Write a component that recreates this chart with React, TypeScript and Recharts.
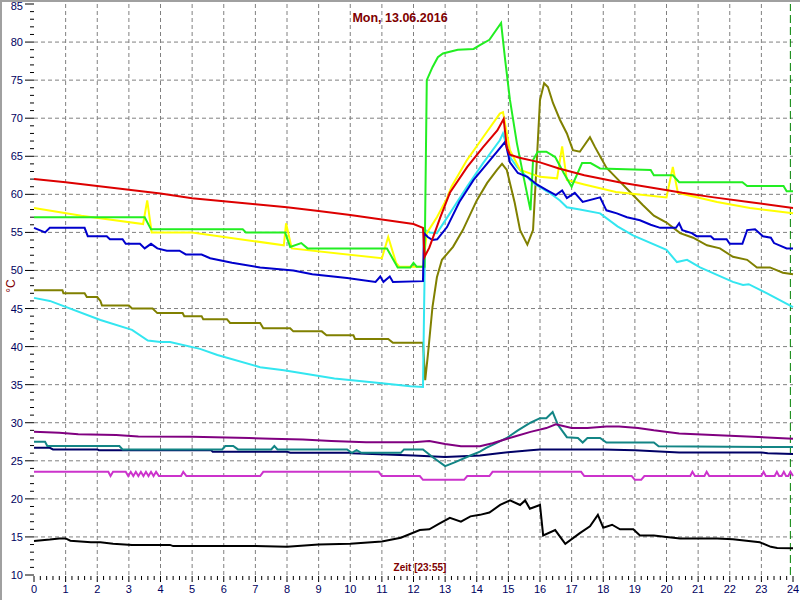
import { LineChart, Line, XAxis, YAxis, ReferenceLine } from "recharts"

// [hour, °C]
const redSeries = [
  [0, 62.0], [1, 61.6], [2, 61.1], [3, 60.6], [4, 60.1], [5, 59.5], [6, 59.1], [7, 58.7], [8, 58.3],
  [9, 57.8], [10, 57.3], [11, 56.7], [12, 56.1], [12.3, 55.6], [12.35, 51.8], [12.5, 53], [12.85, 57.0],
  [13.15, 60.2], [13.7, 63.6], [14.2, 66.2], [14.65, 68.4], [14.85, 69.9], [14.95, 66.2], [15.05, 65.2],
  [15.35, 64.8], [16, 64.2], [16.6, 63.4], [17.4, 62.5], [18.5, 61.6], [19.5, 60.9], [20.5, 60.2],
  [21.5, 59.6], [22.6, 59.0], [24, 58.2],
]

const yellowSeries = [
  [0, 58.2], [1.5, 57.2], [3.45, 56.1], [3.58, 59.2], [3.72, 55.0], [5, 55.0], [7.9, 53.3], [7.97, 56.2],
  [8.15, 52.9], [11.0, 51.6], [11.2, 54.4], [11.45, 51.0], [11.55, 50.5], [12.3, 50.5], [12.42, 54.9],
  [12.74, 57.0], [13.06, 59.5], [13.2, 61.0], [13.69, 64.5], [14.2, 67.5], [14.73, 70.6], [14.83, 70.8],
  [15.05, 65.8], [15.37, 63.2], [16.0, 62.3], [16.54, 62.1], [16.7, 66.3], [16.85, 61.9], [17.4, 61.3],
  [18.4, 60.3], [20.0, 59.6], [20.2, 63.6], [20.36, 60.2], [21.6, 59.0], [22.64, 58.2], [24, 57.5],
]

const greenSeries = [
  [0, 57], [3.5, 57], [3.7, 55.4], [6.6, 55.4], [6.7, 55.0], [7.94, 55.0], [8.1, 53.1], [8.45, 53.6],
  [8.65, 52.9], [11.16, 52.9], [11.5, 50.4], [11.9, 50.4], [12.0, 51.0], [12.1, 50.5], [12.35, 50.5],
  [12.42, 75.0], [12.6, 76.7], [12.77, 78.0], [12.93, 78.5], [13.4, 79.0], [13.9, 79.1], [14.1, 79.6],
  [14.4, 80.3], [14.77, 82.5], [14.9, 77.6], [15.05, 72.4], [15.27, 66.7], [15.5, 61.9], [15.7, 57.9],
  [15.78, 64.5], [15.93, 65.6], [16.2, 65.6], [16.48, 64.9], [16.75, 62.8], [17.0, 61.0], [17.33, 64.1],
  [17.6, 64.1], [17.9, 63.4], [19.5, 63.2], [19.6, 62.5], [20.2, 62.5], [20.4, 61.6], [22.4, 61.6],
  [22.55, 61.1], [23.7, 61.1], [23.8, 60.4], [24, 60.4],
]

const blueSeries = [
  [0, 55.6], [0.35, 55.0], [0.5, 55.6], [1.6, 55.6], [1.7, 54.5], [2.3, 54.5], [2.4, 54.1], [2.8, 54.1],
  [2.9, 53.5], [3.35, 53.5], [3.5, 52.9], [3.7, 53.5], [3.9, 52.9], [4.2, 52.6], [4.6, 52.6], [4.8, 52.1],
  [5.3, 52.1], [5.57, 51.6], [6.26, 51.0], [7.15, 50.4], [8.2, 50.0], [8.8, 49.5], [9.9, 49.0],
  [10.8, 48.5], [10.95, 49.2], [11.05, 48.5], [11.25, 49.2], [11.35, 48.5], [12.3, 48.6], [12.33, 54.9],
  [12.45, 54.4], [12.6, 54.0], [12.75, 54.1], [13.06, 55.7], [13.45, 59.0], [13.9, 61.9], [14.42, 64.5],
  [14.9, 66.9], [15.05, 64.2], [15.3, 62.8], [15.6, 62.3], [15.9, 61.3], [16.2, 60.6], [16.5, 59.9],
  [16.7, 60.5], [16.85, 59.5], [17.1, 60.2], [17.35, 59.0], [17.9, 59.6], [18.1, 57.9], [18.43, 57.5],
  [18.75, 57.0], [19.16, 56.6], [19.5, 56.0], [19.8, 55.6], [20.3, 55.6], [20.4, 56.2], [20.5, 55.3],
  [20.8, 54.9], [20.95, 54.5], [21.4, 54.5], [21.5, 54.1], [21.9, 54.1], [22.0, 53.5], [22.4, 53.5],
  [22.55, 55.3], [22.8, 55.4], [23.05, 54.5], [23.3, 54.3], [23.4, 53.6], [23.8, 52.9], [24, 52.9],
]

const cyanSeries = [
  [0, 46.4], [0.5, 46.0], [2.1, 43.5], [3.1, 42.2], [3.6, 40.8], [4.0, 40.6], [4.3, 40.6], [5.25, 39.7],
  [5.8, 38.9], [7.15, 37.3], [7.9, 36.9], [9.5, 35.8], [11.0, 35.2], [11.9, 34.8], [12.3, 34.7],
  [12.37, 55.3], [12.52, 55.0], [12.74, 54.9], [13.15, 57.5], [13.69, 61.0], [14.2, 64.1], [14.73, 67.1],
  [14.83, 68.0], [15.05, 64.9], [15.27, 63.6], [15.78, 61.5], [16.3, 60.2], [16.63, 59.2], [16.85, 58.3],
  [17.26, 58.0], [17.9, 57.5], [18.45, 55.8], [18.94, 54.6], [20.0, 52.7], [20.33, 51.1], [20.65, 51.4],
  [21.06, 50.4], [22.1, 48.5], [22.42, 48.1], [22.6, 48.2], [23.18, 47.0], [24, 45.2],
]

const oliveSeries = [
  [0, 47.4], [0.9, 47.4], [0.93, 47.0], [1.6, 47.0], [1.67, 46.5], [2.0, 46.5], [2.1, 46.0], [2.15, 45.4],
  [3.0, 45.4], [3.1, 45.0], [3.75, 45.0], [3.9, 44.4], [4.7, 44.4], [4.75, 44.0], [5.3, 44.0], [5.35, 43.6],
  [6.1, 43.6], [6.2, 43.1], [7.15, 43.1], [7.25, 42.4], [8.1, 42.4], [8.2, 42.0], [9.1, 42.0], [9.25, 41.5],
  [10.1, 41.5], [10.15, 41.0], [11.2, 41.0], [11.35, 40.5], [12.3, 40.5], [12.37, 35.6], [12.46, 39.1],
  [12.6, 45.2], [12.74, 49.1], [12.9, 51.4], [13.25, 53.1], [13.56, 55.3], [14.0, 59.2], [14.33, 61.5],
  [14.64, 63.2], [14.8, 64.0], [14.95, 63.2], [15.2, 58.9], [15.37, 55.3], [15.6, 53.4], [15.78, 55.3],
  [15.9, 64.5], [16.0, 72.4], [16.13, 74.6], [16.25, 74.1], [16.41, 72.0], [16.63, 69.8], [16.85, 68.0],
  [17.04, 65.8], [17.26, 65.6], [17.58, 67.5], [17.74, 66.2], [17.9, 65.0], [18.1, 63.5], [18.43, 62.1],
  [18.8, 60.5], [19.25, 58.6], [19.6, 57.2], [20.0, 56.3], [20.43, 54.9], [20.84, 54.3], [21.28, 53.3],
  [21.69, 52.9], [22.1, 51.8], [22.55, 51.4], [22.86, 50.4], [23.27, 50.4], [23.68, 49.7], [24, 49.5],
]

const purpleSeries = [
  [0, 28.8], [0.8, 28.7], [1.4, 28.5], [2.6, 28.4], [3.3, 28.2], [5.0, 28.15], [6.8, 28.0], [7.5, 27.9],
  [8.5, 27.8], [9.4, 27.6], [10.5, 27.45], [12.0, 27.45], [12.5, 27.6], [13.0, 27.2], [13.5, 26.9],
  [14.1, 26.9], [14.5, 27.3], [15.2, 28.2], [15.7, 28.8], [16.2, 29.3], [16.5, 29.8], [16.8, 29.5],
  [17.0, 29.3], [17.5, 29.3], [18.1, 29.5], [18.5, 29.5], [19.1, 29.3], [19.6, 29.0], [20.4, 28.6],
  [22, 28.3], [24, 27.9],
]

const tealSeries = [
  [0, 27.5], [0.35, 27.5], [0.42, 26.95], [2.7, 26.95], [2.8, 26.5], [5.95, 26.5], [6.05, 26.95],
  [6.3, 26.95], [6.45, 26.5], [7.5, 26.5], [7.6, 26.95], [7.7, 26.5], [9.9, 26.5], [10.05, 26.05],
  [10.2, 26.4], [10.35, 26.05], [11.6, 26.05], [11.7, 26.5], [12.3, 26.5], [12.6, 25.5], [13.0, 24.3],
  [13.3, 24.8], [13.8, 25.7], [14.1, 26.2], [14.3, 26.7], [14.6, 27.3], [14.95, 28.0], [15.3, 29.0],
  [15.7, 30.0], [16.0, 30.6], [16.2, 30.6], [16.4, 31.4], [16.57, 29.7], [16.85, 28.1], [17.2, 28.0],
  [17.35, 27.4], [17.5, 28.0], [17.9, 28.0], [18.1, 27.4], [19.6, 27.4], [19.75, 26.9], [24, 26.8],
]

const navySeries = [
  [0, 26.7], [0.5, 26.7], [0.6, 26.5], [2.0, 26.5], [2.05, 26.4], [5.6, 26.4], [5.65, 26.2], [8.0, 26.2],
  [8.1, 26.05], [10.0, 26.05], [10.05, 26.0], [12.0, 25.7], [13.0, 25.5], [14.1, 25.7], [14.7, 26.0],
  [15.7, 26.4], [16.0, 26.5], [18.0, 26.5], [19.0, 26.4], [20.4, 26.1], [23.0, 26.1], [23.2, 26.0],
  [24, 25.9],
]

const magentaSeries = [
  [0, 23.55], [2.35, 23.55], [2.42, 23.0], [2.5, 23.55], [2.9, 23.55], [2.98, 23.0], [3.06, 23.55],
  [3.14, 23.0], [3.22, 23.55], [3.3, 23.0], [3.38, 23.55], [3.46, 23.0], [3.54, 23.55], [3.62, 23.0],
  [3.7, 23.55], [3.78, 23.0], [3.86, 23.55], [3.95, 23.0], [4.65, 23.0], [4.72, 23.55], [4.82, 23.0],
  [7.15, 23.0], [7.25, 23.55], [10.9, 23.55], [11.0, 23.0], [12.2, 23.0], [12.3, 22.5], [13.6, 22.5],
  [13.7, 23.0], [14.4, 23.0], [14.5, 23.55], [17.3, 23.55], [17.4, 23.0], [18.9, 23.0], [19.0, 22.5],
  [19.2, 22.5], [19.3, 23.0], [20.75, 23.0], [20.82, 23.55], [20.9, 23.0], [21.2, 23.0], [21.27, 23.55],
  [21.35, 23.0], [23.0, 23.0], [23.07, 23.55], [23.14, 23.0], [23.42, 23.0], [23.49, 23.55], [23.56, 23.0],
  [23.64, 23.0], [23.71, 23.55], [23.78, 23.0], [23.85, 23.0], [23.92, 23.55], [24, 23.0],
]

const blackSeries = [
  [0, 14.47], [0.5, 14.65], [0.8, 14.8], [1.0, 14.8], [1.15, 14.5], [1.8, 14.3], [2.1, 14.3], [2.5, 14.1],
  [3.1, 13.95], [4.3, 13.95], [4.4, 13.8], [6, 13.8], [7, 13.8], [8, 13.7], [9, 14.0], [10.0, 14.1],
  [11, 14.4], [11.6, 14.9], [12.2, 15.9], [12.5, 16.0], [12.8, 16.7], [13.15, 17.5], [13.5, 17.0],
  [13.8, 17.7], [14.1, 17.9], [14.4, 18.2], [14.74, 19.2], [15.05, 19.8], [15.37, 19.2], [15.53, 19.8],
  [15.68, 18.7], [16.0, 19.2], [16.1, 15.2], [16.48, 15.9], [16.8, 14.1], [17.26, 15.5], [17.58, 16.4],
  [17.83, 17.9], [18.0, 16.2], [18.28, 16.6], [18.53, 16.0], [18.95, 16.0], [19.16, 15.2], [19.6, 15.2],
  [20.0, 15.0], [20.43, 14.8], [21.06, 14.8], [21.6, 14.8], [22.1, 14.7], [22.95, 14.3], [23.3, 13.7],
  [23.5, 13.55], [24, 13.5],
]

const xTicks = Array.from({ length: 121 }, (_, i) => Math.round(i * 2) / 10)
const yTicks = Array.from({ length: 76 }, (_, i) => 10 + i)
const xGrid = Array.from({ length: 23 }, (_, i) => i + 1)
const yGrid = [15, 20, 25, 30, 35, 40, 45, 50, 55, 60, 65, 70, 75, 80]
const nowHour = 23 + 55 / 60

const series = [
  { name: "black", color: "#000000", data: blackSeries },
  { name: "magenta", color: "#cc33cc", data: magentaSeries },
  { name: "navy", color: "#000066", data: navySeries },
  { name: "teal", color: "#138585", data: tealSeries },
  { name: "purple", color: "#800080", data: purpleSeries },
  { name: "olive", color: "#808000", data: oliveSeries },
  { name: "cyan", color: "#33e6f0", data: cyanSeries },
  { name: "yellow", color: "#ffff00", data: yellowSeries },
  { name: "green", color: "#22ee22", data: greenSeries },
  { name: "blue", color: "#0000cc", data: blueSeries },
  { name: "red", color: "#dd0000", data: redSeries },
]

const PLOT_LEFT = 34
const PLOT_BOTTOM = 575
const font = "'Liberation Sans', Arial, sans-serif"

const YTick = (props: any) => {
  const { y, payload } = props
  const v = payload.value
  const major = v % 5 === 0
  return (
    <g>
      <line x1={PLOT_LEFT - (major ? 9 : 4)} x2={PLOT_LEFT} y1={y} y2={y} stroke="#000" strokeWidth={1} />
      {major && (
        <text x={PLOT_LEFT - 11} y={Math.max(y + 4, 10)} textAnchor="end" fontSize={11} fontFamily={font} fill="#000060">
          {v}
        </text>
      )}
    </g>
  )
}

const XTick = (props: any) => {
  const { x, payload } = props
  const v = payload.value
  const major = Math.abs(v - Math.round(v)) < 0.001
  return (
    <g>
      <line x1={x} x2={x} y1={PLOT_BOTTOM + 1} y2={PLOT_BOTTOM + (major ? 7 : 5)} stroke="#000" strokeWidth={1} />
      {major && (
        <text x={x} y={PLOT_BOTTOM + 18} textAnchor="middle" fontSize={11} fontFamily={font} fill="#000060">
          {Math.round(v)}
        </text>
      )}
    </g>
  )
}

export default function App() {
  return (
    <div style={{ position: "relative", width: 800, height: 600, background: "#ffffff", overflow: "hidden" }}>
      <style>{"body{margin:0}"}</style>
      <LineChart width={800} height={600} margin={{ top: 4, right: 7, bottom: 0, left: 0 }}>
        <XAxis
          dataKey="h"
          type="number"
          domain={[0, 24]}
          ticks={xTicks}
          interval={0}
          tick={XTick}
          tickLine={false}
          axisLine={false}
          height={25}
        />
        <YAxis
          type="number"
          domain={[10, 85]}
          ticks={yTicks}
          interval={0}
          tick={YTick}
          tickLine={false}
          axisLine={false}
          width={34}
        />
        {yGrid.map((v) => (
          <ReferenceLine key={"gy" + v} y={v} stroke="#808080" strokeDasharray="4 3" />
        ))}
        {xGrid.map((v) => (
          <ReferenceLine key={"gx" + v} x={v} stroke="#808080" strokeDasharray="4 3" />
        ))}
        <ReferenceLine x={nowHour} stroke="#008000" strokeDasharray="8 4" />
        {series.map((s) => (
          <Line
            key={s.name}
            data={s.data.map(([h, v]) => ({ h, v }))}
            dataKey="v"
            type="linear"
            stroke={s.color}
            strokeWidth={2}
            dot={false}
            activeDot={false}
            isAnimationActive={false}
          />
        ))}
      </LineChart>
      <div style={{ position: "absolute", left: 0, top: 0, width: 2, height: 600, background: "#a0a0a0" }} />
      <div style={{ position: "absolute", left: 0, top: 0, width: 800, height: 2, background: "#a0a0a0" }} />
      <div
        style={{
          position: "absolute", left: 300, top: 11, width: 200, textAlign: "center",
          fontFamily: font, fontWeight: "bold", fontSize: 12.5, color: "#800000",
        }}
      >
        Mon, 13.06.2016
      </div>
      <div
        style={{
          position: "absolute", left: 320, top: 562, width: 200, textAlign: "center",
          fontFamily: font, fontWeight: "bold", fontSize: 10, color: "#800000",
        }}
      >
        Zeit [23:55]
      </div>
      <div
        style={{
          position: "absolute", left: -9, top: 279, width: 40, textAlign: "center",
          transform: "rotate(-90deg)", fontFamily: font, fontSize: 12, color: "#800000",
        }}
      >
        °C
      </div>
    </div>
  )
}
